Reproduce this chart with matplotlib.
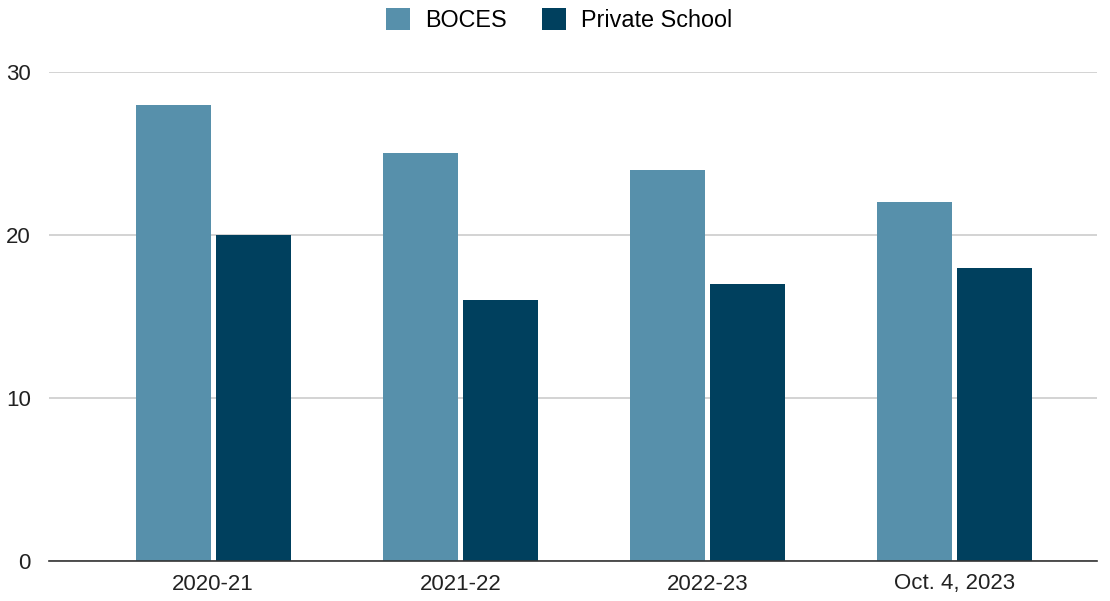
import matplotlib
matplotlib.use("Agg")
import matplotlib.pyplot as plt
import numpy as np

plt.rcParams['font.family'] = ['Liberation Sans', 'DejaVu Sans']

categories = ["2020-21", "2021-22", "2022-23", "Oct. 4, 2023"]
boces = [28, 25, 24, 22]
private_school = [20, 16, 17, 18]

W, H = 1110, 601
fig = plt.figure(figsize=(W / 100, H / 100), dpi=100)
ax = fig.add_axes([49 / W, (H - 561) / H, (1097 - 49) / W, (561 - 72) / H])

x = np.arange(len(categories))
bw = 0.304
off = 0.162
ax.bar(x - off, boces, bw, color="#5790ab", label="BOCES", zorder=3)
ax.bar(x + off, private_school, bw, color="#00405e", label="Private School", zorder=3)

ax.set_xlim(-0.664, 3.575)
ax.set_ylim(0, 30)
ax.set_yticks([0, 10, 20, 30])
ax.set_xticks(x)
ax.set_xticklabels(categories)
ax.yaxis.grid(True, color="#cccccc", linewidth=1.2, zorder=0)
ax.tick_params(axis="both", length=0, labelsize=16, colors="#222222")
ax.tick_params(axis="y", pad=13)
ax.tick_params(axis="x", pad=9)
for s in ["top", "right", "left"]:
    ax.spines[s].set_visible(False)
ax.spines["bottom"].set_color("#333333")
ax.spines["bottom"].set_linewidth(1.2)
ax.spines["bottom"].set_zorder(4)

fig.legend(loc="upper center", bbox_to_anchor=(0.504, 1.021), ncol=2, frameon=False,
           fontsize=16.8, handlelength=1.02, handleheight=1.02, columnspacing=1.5,
           handletextpad=0.65)

fig.savefig("out.png", dpi=100)
